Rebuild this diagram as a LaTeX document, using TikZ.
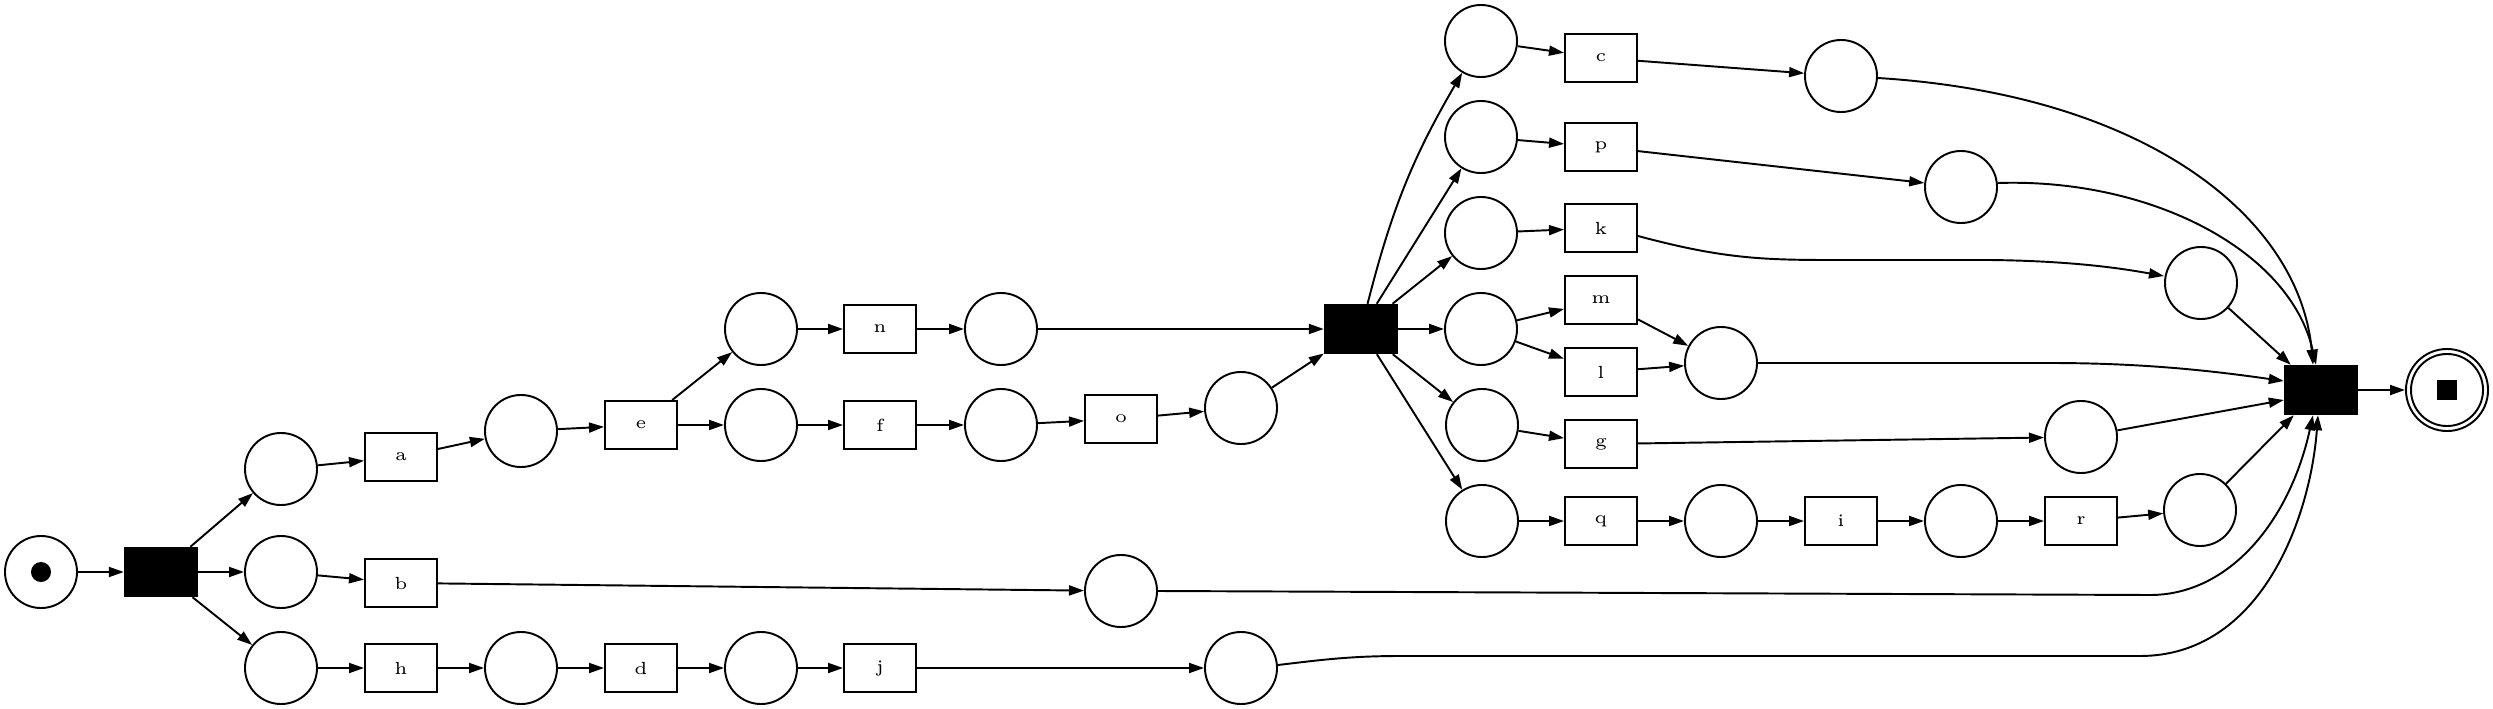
\documentclass[tikz,border=0pt]{standalone}
\usetikzlibrary{arrows.meta}
\begin{document}
\begin{tikzpicture}[x=0.01cm,y=-0.01cm,
  place/.style={circle,draw,line width=0.55pt,minimum size=0.72cm,inner sep=0pt},
  trans/.style={rectangle,draw,line width=0.55pt,minimum width=0.72cm,minimum height=0.48cm,inner sep=0pt,font=\fontsize{5}{6}\selectfont},
  silent/.style={rectangle,fill=black,draw=black,minimum width=0.73cm,minimum height=0.49cm,inner sep=0pt},
  arc/.style={-{Triangle[length=0.15cm,width=0.1cm]},line width=0.55pt},
]
\useasboundingbox (0,0) rectangle (2493,709);
% places
\node[place] (pstart) at (41,572) {};
\node[circle,fill=black,minimum size=0.2cm,inner sep=0pt] (tok) at (41,572) {};
\node[place] (p1) at (281,469) {};
\node[place] (p2) at (281,572) {};
\node[place] (p3) at (281,668) {};
\node[place] (pa) at (521,431) {};
\node[place] (pe1) at (761,329) {};
\node[place] (pe2) at (761,425) {};
\node[place] (pn) at (1001,329) {};
\node[place] (pf) at (1001,425) {};
\node[place] (po) at (1241,408) {};
\node[place] (pb) at (1121,591) {};
\node[place] (ph) at (521,668) {};
\node[place] (pd) at (761,668) {};
\node[place] (pj) at (1241,668) {};
\node[place] (q1) at (1481,41) {};
\node[place] (q2) at (1481,137) {};
\node[place] (q3) at (1481,233) {};
\node[place] (q4) at (1481,329) {};
\node[place] (q5) at (1482,425) {};
\node[place] (q6) at (1482,521) {};
\node[place] (pc) at (1841,76) {};
\node[place] (pp) at (1961,187) {};
\node[place] (pk) at (2201,283) {};
\node[place] (pml) at (1721,363) {};
\node[place] (pg) at (2081,437) {};
\node[place] (pq) at (1721,521) {};
\node[place] (pi) at (1961,521) {};
\node[place] (pr) at (2200,510) {};
\node[circle,draw,line width=0.55pt,minimum size=0.82cm,inner sep=0pt] (fin) at (2447,390) {};
\node[place] (fin2) at (2447,390) {};
\node[rectangle,fill=black,minimum size=0.2cm,inner sep=0pt] (ftok) at (2447,390) {};
% transitions
\node[trans] (a) at (401,457) {a};
\node[trans] (b) at (401,583) {b};
\node[trans] (h) at (401,668) {h};
\node[trans] (e) at (641,425) {e};
\node[trans] (n) at (880,329) {n};
\node[trans] (f) at (880,425) {f};
\node[trans] (d) at (641,668) {d};
\node[trans] (j) at (880,668) {j};
\node[trans] (o) at (1121,419) {o};
\node[trans] (c) at (1601,58) {c};
\node[trans] (p) at (1601,147) {p};
\node[trans] (k) at (1601,228) {k};
\node[trans] (m) at (1601,300) {m};
\node[trans] (l) at (1601,372) {l};
\node[trans] (g) at (1601,444) {g};
\node[trans] (q) at (1601,521) {q};
\node[trans] (i) at (1841,521) {i};
\node[trans] (r) at (2081,521) {r};
\node[silent] (t1) at (161,572) {};
\node[silent] (t2) at (1361,329) {};
\node[silent] (t3) at (2321,390) {};
% arcs
\draw[arc] (pstart) -- (t1);
\draw[arc] (t1) -- (p1);
\draw[arc] (t1) -- (p2);
\draw[arc] (t1) -- (p3);
\draw[arc] (p1) -- (a);
\draw[arc] (a) -- (pa);
\draw[arc] (pa) -- (e);
\draw[arc] (e) -- (pe1);
\draw[arc] (e) -- (pe2);
\draw[arc] (pe1) -- (n);
\draw[arc] (n) -- (pn);
\draw[arc] (pe2) -- (f);
\draw[arc] (f) -- (pf);
\draw[arc] (pf) -- (o);
\draw[arc] (o) -- (po);
\draw[arc] (pn) -- (t2);
\draw[arc] (po) -- (t2);
\draw[arc] (p2) -- (b);
\draw[arc] (b) -- (pb);
\draw[arc] (p3) -- (h);
\draw[arc] (h) -- (ph);
\draw[arc] (ph) -- (d);
\draw[arc] (d) -- (pd);
\draw[arc] (pd) -- (j);
\draw[arc] (j) -- (pj);
\draw[arc] (t2) to[bend left=8] (q1);
\draw[arc] (t2) -- (q2);
\draw[arc] (t2) -- (q3);
\draw[arc] (t2) -- (q4);
\draw[arc] (t2) -- (q5);
\draw[arc] (t2) -- (q6);
\draw[arc] (q1) -- (c);
\draw[arc] (c) -- (pc);
\draw[arc] (q2) -- (p);
\draw[arc] (p) -- (pp);
\draw[arc] (q3) -- (k);
\draw[arc] ([yshift=-0.08cm]k.east) .. controls (1720,258) and (1760,260) .. (1830,260) -- (1990,260) .. controls (2080,261) and (2130,270) .. ([yshift=0.07cm]pk.west);
\draw[arc] (q4) -- (m);
\draw[arc] (q4) -- (l);
\draw[arc] (m) -- (pml);
\draw[arc] (l) -- (pml);
\draw[arc] (q5) -- (g);
\draw[arc] (g) -- (pg);
\draw[arc] (q6) -- (q);
\draw[arc] (q) -- (pq);
\draw[arc] (pq) -- (i);
\draw[arc] (i) -- (pi);
\draw[arc] (pi) -- (r);
\draw[arc] (r) -- (pr);
\draw[arc] ([yshift=-0.02cm]pc.east) .. controls (2150,95) and (2300,220) .. ([xshift=-0.08cm]t3.north);
\draw[arc] ([yshift=0.04cm]pp.east) .. controls (2150,178) and (2290,250) .. ([xshift=-0.05cm]t3.north);
\draw[arc] (pk) -- ([xshift=0.07cm]t3.north west);
\draw[arc] (pml.east) -- (2050,363) .. controls (2150,363) and (2220,372) .. ([yshift=0.09cm]t3.west);
\draw[arc] (pg) -- ([yshift=-0.1cm]t3.west);
\draw[arc] (pr) -- ([xshift=0.1cm]t3.south west);
\draw[arc] (pb.east) -- (2150,595) .. controls (2230,595) and (2290,520) .. ([xshift=-0.08cm]t3.south);
\draw[arc] ([yshift=0.03cm]pj.east) .. controls (1320,660) and (1350,656) .. (1400,656) -- (2140,656) .. controls (2260,656) and (2310,520) .. ([xshift=-0.03cm]t3.south);
\draw[arc] (t3) -- (fin);
\end{tikzpicture}
\end{document}
